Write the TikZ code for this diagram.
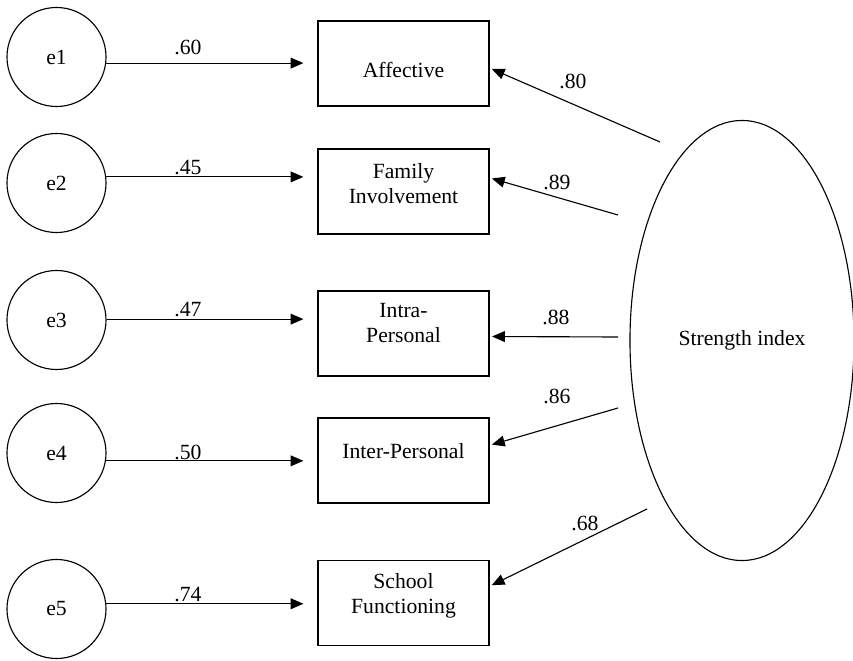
\documentclass[tikz,border=0pt]{standalone}
\usepackage{fontspec}
\setmainfont{Liberation Serif}
\usetikzlibrary{arrows.meta, shapes.geometric}

\begin{document}
\begin{tikzpicture}[x=0.025cm, y=-0.025cm, >={Triangle[length=0.32cm, width=0.27cm]},
    every node/.style={font=\fontsize{15.4}{17.8}\selectfont},
    errnode/.style={draw, circle, line width=0.8pt, minimum size=2.475cm, inner sep=0pt},
    indbox/.style={draw, rectangle, line width=0.8pt, minimum width=4.275cm, minimum height=2.125cm},
    boxtext/.style={anchor=north, inner sep=0pt, align=center},
    link/.style={->, line width=0.8pt}]
    \useasboundingbox (0,0) rectangle (853,661);

    % --- Error terms (left column) ---
    \node[errnode] (e1) at (56.5,57)  {e1};
    \node[errnode] (e2) at (56.5,183) {e2};
    \node[errnode] (e3) at (56.5,320) {e3};
    \node[errnode] (e4) at (56.5,453) {e4};
    \node[errnode] (e5) at (56.5,609) {e5};

    % --- Indicator boxes (middle column) ---
    \node[indbox] (aff) at (403.5,63.5)  {};
    \node[indbox] (fam) at (403.5,191.5) {};
    \node[indbox] (ira) at (403.5,333.5) {};
    \node[indbox] (ier) at (403.5,460.5) {};
    \node[indbox] (sch) at (403.5,603)   {};

    \node[boxtext] (afftxt) at (403.5,62)  {Affective};
    \node[boxtext] (famtxt) at (403.5,163) {Family\\Involvement};
    \node[boxtext] (iratxt) at (403.5,303) {Intra-\\Personal};
    \node[boxtext] (iertxt) at (403.5,443) {Inter-Personal};
    \node[boxtext] (schtxt) at (403.5,573) {School\\Functioning};

    % --- Latent factor ---
    \node[draw, ellipse, line width=0.8pt, minimum width=5.6cm, minimum height=11cm, inner sep=0pt]
        (str) at (742,340.5) {Strength index};

    % --- Error paths ---
    \draw[link, shorten >=0.35cm] (e1.-7) -- (e1.-7 -| aff.west);
    \draw[link, shorten >=0.35cm] (e2.7)  -- (e2.7 -| fam.west);
    \draw[link, shorten >=0.35cm] (e3.1)  -- (e3.1 -| ira.west);
    \draw[link, shorten >=0.35cm] (e4.-9) -- (e4.-9 -| ier.west);
    \draw[link, shorten >=0.35cm] (e5.6)  -- (e5.6 -| sch.west);

    \node (w1) at (188,47)  {.60};
    \node (w2) at (188,168) {.45};
    \node (w3) at (188,310) {.47};
    \node (w4) at (188,452) {.50};
    \node (w5) at (188,595) {.74};

    % --- Loadings (free ends near the ellipse) ---
    \coordinate (s1) at (660,142);
    \coordinate (s2) at (618,215);
    \coordinate (s3) at (618,337);
    \coordinate (s4) at (618,408);
    \coordinate (s5) at (647,509);

    \draw[link, shorten >=0.06cm] (s1) -- (aff.-3.7);
    \draw[link, shorten >=0.06cm] (s2) -- (fam.9);
    \draw[link, shorten >=0.06cm] (s3) -- (ira.-2.3);
    \draw[link, shorten >=0.06cm] (s4) -- (ier.10.9);
    \draw[link, shorten >=0.06cm] (s5) -- (sch.11.9);

    \node (l1) at (573,81)  {.80};
    \node (l2) at (557,182) {.89};
    \node (l3) at (556,317) {.88};
    \node (l4) at (557,396) {.86};
    \node (l5) at (585,523) {.68};
\end{tikzpicture}
\end{document}
